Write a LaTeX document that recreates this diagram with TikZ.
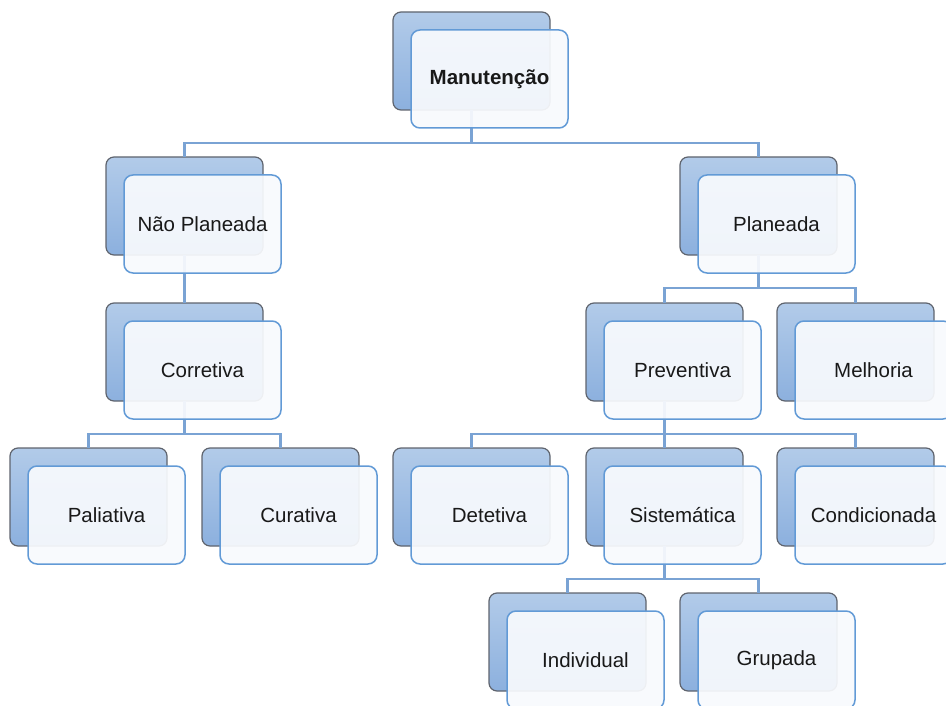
\documentclass[tikz,border=0pt]{standalone}
\usepackage{fontspec}
\setmainfont{Liberation Sans}
\definecolor{backtop}{RGB}{178,203,233}
\definecolor{backbot}{RGB}{140,176,222}
\definecolor{backline}{RGB}{95,100,110}
\definecolor{frontline}{RGB}{98,154,214}
\definecolor{frontfill}{RGB}{248,250,253}
\definecolor{connc}{RGB}{122,163,212}
\tikzset{
  backbox/.style={rectangle, rounded corners=8pt, minimum width=157pt, minimum height=98pt,
    inner sep=0pt, outer sep=0pt, draw=backline, line width=1.2pt,
    top color=backtop, bottom color=backbot},
  frontbox/.style={rectangle, rounded corners=9pt, minimum width=157pt, minimum height=98pt,
    inner sep=0pt, outer sep=0pt, draw=frontline, line width=1.5pt,
    fill=frontfill, fill opacity=0.93, text opacity=1, draw opacity=1,
    font=\fontsize{20.5}{24}\selectfont, text=black!90},
  conn/.style={draw=connc, line width=2.2pt},
}
\begin{document}
\begin{tikzpicture}[x=1pt,y=-1pt]
\useasboundingbox (0,0) rectangle (946,706);
\clip (0,0) rectangle (946,706);
% bus coordinates
\coordinate (j1) at (471.5,143);
\coordinate (j2) at (758.5,288);
\coordinate (j3) at (184.5,434);
\coordinate (j4) at (664.5,434);
\coordinate (j5) at (664.5,579);
% back boxes
\node[backbox] (mb) at (471.5,61) {};
\node[backbox] (npb) at (184.5,206) {};
\node[backbox] (plb) at (758.5,206) {};
\node[backbox] (cob) at (184.5,352) {};
\node[backbox] (prb) at (664.5,352) {};
\node[backbox] (meb) at (855.5,352) {};
\node[backbox] (pab) at (88.5,497) {};
\node[backbox] (cub) at (280.5,497) {};
\node[backbox] (deb) at (471.5,497) {};
\node[backbox] (sib) at (664.5,497) {};
\node[backbox] (cdb) at (855.5,497) {};
\node[backbox] (inb) at (567.5,642) {};
\node[backbox] (grb) at (758.5,642) {};
% connectors
\draw[conn] (mb.south) -- (j1) -| (npb.north);
\draw[conn] (j1) -| (plb.north);
\draw[conn] (npb.south) -- (cob.north);
\draw[conn] (plb.south) -- (j2) -| (prb.north);
\draw[conn] (j2) -| (meb.north);
\draw[conn] (cob.south) -- (j3) -| (pab.north);
\draw[conn] (j3) -| (cub.north);
\draw[conn] (prb.south) -- (j4) -| (deb.north);
\draw[conn] (j4) -- (sib.north);
\draw[conn] (j4) -| (cdb.north);
\draw[conn] (sib.south) -- (j5) -| (inb.north);
\draw[conn] (j5) -| (grb.north);
% front boxes
\node[frontbox] (m) at ([shift={(18,18)}]mb.center) {\bfseries Manutenção};
\node[frontbox] (np) at ([shift={(18,18)}]npb.center) {Não Planeada};
\node[frontbox] (pl) at ([shift={(18,18)}]plb.center) {Planeada};
\node[frontbox] (co) at ([shift={(18,18)}]cob.center) {Corretiva};
\node[frontbox] (pr) at ([shift={(18,18)}]prb.center) {Preventiva};
\node[frontbox] (me) at ([shift={(18,18)}]meb.center) {Melhoria};
\node[frontbox] (pa) at ([shift={(18,18)}]pab.center) {Paliativa};
\node[frontbox] (cu) at ([shift={(18,18)}]cub.center) {Curativa};
\node[frontbox] (de) at ([shift={(18,18)}]deb.center) {Detetiva};
\node[frontbox] (si) at ([shift={(18,18)}]sib.center) {Sistemática};
\node[frontbox] (cd) at ([shift={(18,18)}]cdb.center) {Condicionada};
\node[frontbox] (in) at ([shift={(18,18)}]inb.center) {Individual};
\node[frontbox] (gr) at ([shift={(18,18)}]grb.center) {Grupada};
\end{tikzpicture}
\end{document}
